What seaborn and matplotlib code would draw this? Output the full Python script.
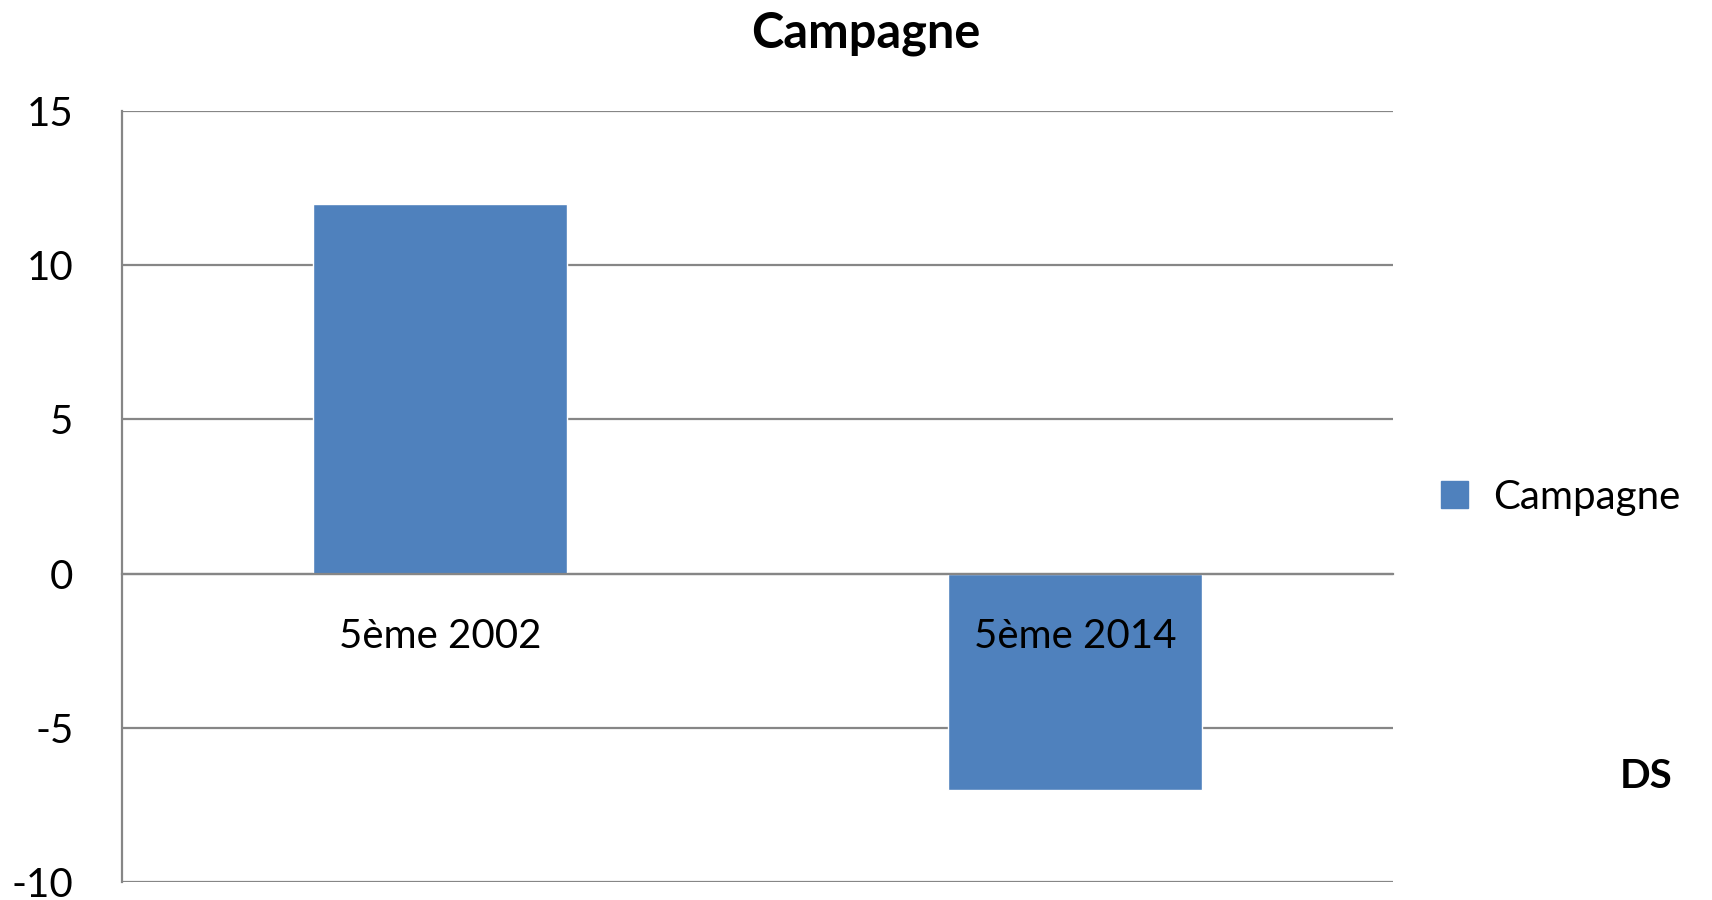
import matplotlib
matplotlib.use("Agg")
import matplotlib.pyplot as plt
import matplotlib.patches as mpatches
import seaborn as sns

# chart data
categories = ["5ème 2002", "5ème 2014"]
values = [12, -7]
series_name = "Campagne"
y_ticks = [-10, -5, 0, 5, 10, 15]

bar_color = "#4F81BD"
grid_color = "#868686"

sns.set_style("white")
plt.rcParams["font.family"] = ["Lato", "DejaVu Sans"]
plt.rcParams["text.color"] = "black"

fig = plt.figure(figsize=(17.12, 9), dpi=100)
ax = fig.add_axes([0.0713, 0.0197, 0.8137 - 0.0713, 0.8767 - 0.0197])

sns.barplot(x=categories, y=values, color=bar_color, width=0.4,
            saturation=1, ax=ax, zorder=3)

ax.set_xlim(-0.5, len(categories) - 0.5)
ax.set_ylim(min(y_ticks), max(y_ticks))
ax.set_yticks(y_ticks)
ax.set_yticklabels([str(t) for t in y_ticks])
ax.yaxis.grid(True, color=grid_color, linewidth=1.6)
ax.set_axisbelow(True)

# x axis sits on the zero line, ticks between categories
for side in ["top", "right"]:
    ax.spines[side].set_visible(False)
ax.spines["left"].set_color(grid_color)
ax.spines["left"].set_linewidth(1.6)
ax.spines["bottom"].set_position(("data", 0))
ax.spines["bottom"].set_color(grid_color)
ax.spines["bottom"].set_linewidth(1.6)
ax.spines["bottom"].set_zorder(4)

ax.set_xticks(range(len(categories)))
ax.set_xticklabels(categories)
ax.set_xticks([i - 0.5 for i in range(len(categories) + 1)], minor=True)
ax.tick_params(axis="x", which="major", length=0, pad=32, labelsize=29,
               labelcolor="black")
ax.tick_params(axis="x", which="minor", length=11, width=1.6,
               color=grid_color, direction="out")
ax.tick_params(axis="y", length=11, width=1.6, color=grid_color,
               direction="out", pad=24, labelsize=29, labelcolor="black")
# category labels drawn over the bars, y grid stays below
ax.xaxis.set_zorder(5)
ax.set_xlabel("")
ax.set_ylabel("")

handle = mpatches.Patch(color=bar_color, label=series_name)
fig.legend(handles=[handle], loc="center left",
           bbox_to_anchor=(1441 / 1712, 1 - 497 / 900),
           frameon=False, fontsize=29, borderpad=0, borderaxespad=0,
           handlelength=0.67, handleheight=0.67, handletextpad=0.62)

fig.text(866 / 1712, 1 - 33 / 900, "Campagne", ha="center", va="center",
         fontsize=35, fontweight="bold")
fig.text(1646 / 1712, 1 - 776 / 900, "DS", ha="center", va="center",
         fontsize=29, fontweight="bold")

fig.savefig("out.png", dpi=100)
